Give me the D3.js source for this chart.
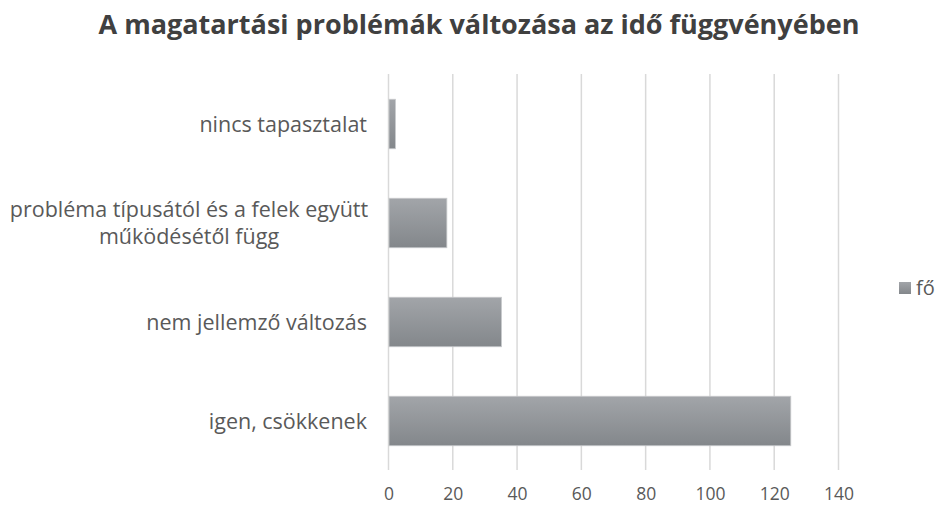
<!DOCTYPE html>
<html><head><meta charset="utf-8">
<script src="https://cdn.jsdelivr.net/npm/d3@7"></script>
<style>body{margin:0;background:#fff}</style>
</head><body>
<svg id="c" width="941" height="506"></svg>
<script>
const categories = ["nincs tapasztalat", "probléma típusától és a felek együtt|működésétől függ", "nem jellemző változás", "igen, csökkenek"];
const values = [2, 18, 35, 125];
const ticks = [0, 20, 40, 60, 80, 100, 120, 140];
const seriesName = "fő";
const title = "A magatartási problémák változása az idő függvényében";

const svg = d3.select("#c");
const font = "'Open Sans', sans-serif";
const x = d3.scaleLinear().domain([0, 140]).range([388.5, 838.5]);
const y = d3.scaleBand().domain(categories).range([74.5, 470.5]).paddingInner(0.5).paddingOuter(0.25);

const defs = svg.append("defs");
const g = defs.append("linearGradient").attr("id","bg").attr("x1",0).attr("y1",0).attr("x2",0).attr("y2",1);
g.append("stop").attr("offset","0%").attr("stop-color","#a2a5a9");
g.append("stop").attr("offset","100%").attr("stop-color","#83878b");

svg.append("text").attr("x", 479).attr("y", 34).attr("text-anchor","middle")
  .attr("font-family", font).attr("font-weight","bold").attr("font-size", 27).attr("fill","#404040").text(title);

// gridlines
svg.append("g").selectAll("line").data(ticks).join("line")
  .attr("x1", d=>x(d)).attr("x2", d=>x(d)).attr("y1", 74).attr("y2", 470)
  .attr("stroke", "#d9d9d9").attr("stroke-width", 1.5);

// bars
svg.append("g").selectAll("rect").data(values).join("rect")
  .attr("x", x(0)+0.5).attr("y", (d,i)=>y(categories[i]))
  .attr("width", d=>x(d)-x(0)).attr("height", y.bandwidth())
  .attr("fill","url(#bg)").attr("stroke","#c8cacc").attr("stroke-width",0.8);

// x axis labels
const xa = d3.axisBottom(x).tickValues(ticks).tickSize(0).tickPadding(0);
const ag = svg.append("g").attr("transform","translate(0,500)").call(xa);
ag.select(".domain").remove();
ag.selectAll("text").attr("font-family", font).attr("font-size", 17.5).attr("fill","#595959").attr("dy","0");

// category labels
const lab = svg.append("g");
categories.forEach((c,i)=>{
  const lines = c.split("|");
  const cy = y(c) + y.bandwidth()/2;
  const lh = 27;
  lines.forEach((l,j)=>{
    lab.append("text").attr("x", (lines.length>1 ? 189 : 367)).attr("text-anchor", lines.length>1 ? "middle" : "end")
      .attr("y", cy + (j - (lines.length-1)/2)*lh).attr("dy","0.35em")
      .attr("font-family", font).attr("font-size", 21.5).attr("fill","#595959").text(l);
  });
});

// legend
svg.append("rect").attr("x", 899).attr("y", 282).attr("width", 12).attr("height", 12).attr("fill","url(#bg)");
svg.append("text").attr("x", 916).attr("y", 288).attr("dy","0.35em").attr("font-family", font).attr("font-size", 20).attr("fill","#595959").text(seriesName);
</script>
</body></html>
